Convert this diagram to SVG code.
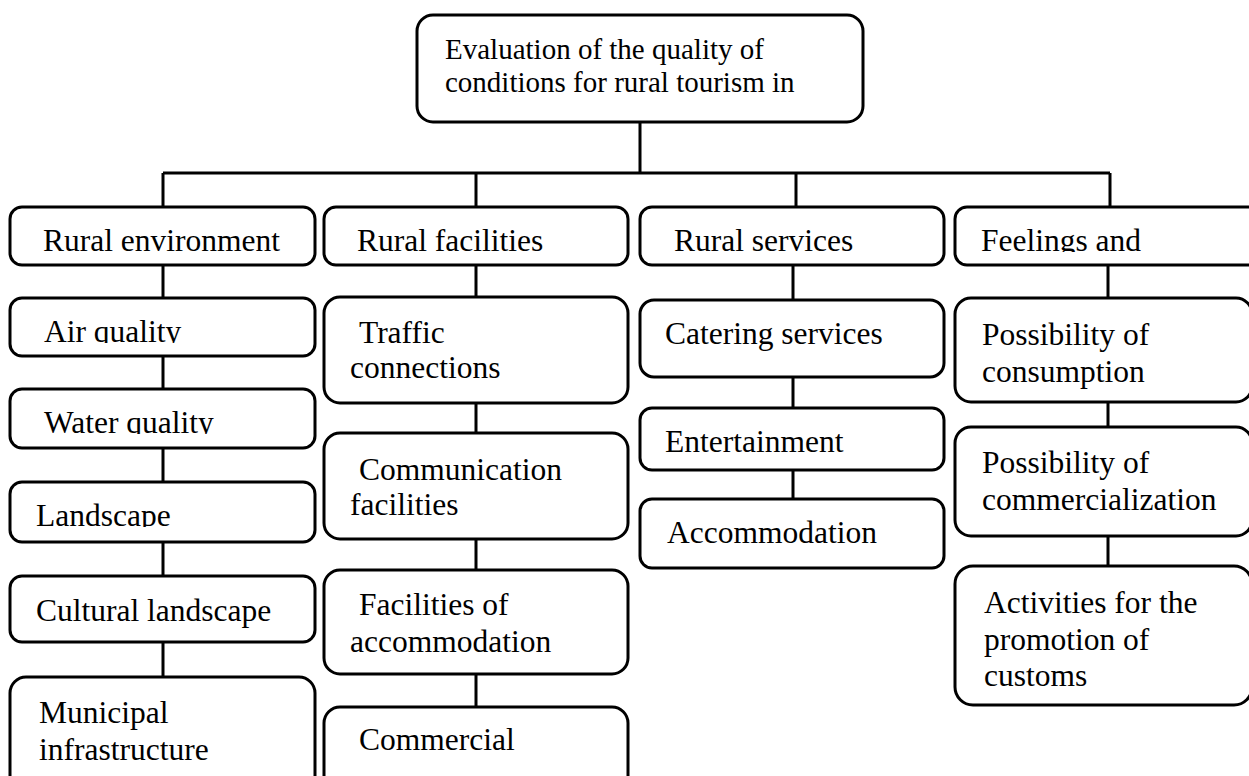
<svg xmlns="http://www.w3.org/2000/svg" width="1249" height="776" viewBox="0 0 1249 776">
<style>
.box{fill:#fff;stroke:#000;stroke-width:3}
.t{font-family:"Liberation Serif","Times New Roman",serif;font-size:31.5px;fill:#000}
.tt{font-size:29px}
.c{stroke:#000;stroke-width:3;fill:none}
</style>
<defs>
<clipPath id="cL1"><rect x="0" y="200" width="1249" height="52"/></clipPath>
<clipPath id="cAir"><rect x="0" y="290" width="330" height="53"/></clipPath>
<clipPath id="cWater"><rect x="0" y="380" width="330" height="54"/></clipPath>
<clipPath id="cLand"><rect x="0" y="475" width="330" height="52"/></clipPath>
<clipPath id="cComm"><rect x="320" y="700" width="320" height="68"/></clipPath>
</defs>
<rect width="1249" height="776" fill="#fff"/>
<g id="connectors">
<path class="c" d="M640 122V173 M163 173H1110 M163 173V207 M476 173V207 M796 173V207 M1110 173V207 M163 265V298 M163 356V389 M163 448V482 M163 542V576 M163 642V677 M476 265V297 M476 403V433 M476 539V570 M476 674V707 M793 265V300 M793 377V408 M793 470V499 M1108 265V298 M1108 402V427 M1108 536V566"/>
</g>
<g id="root">
<rect class="box" x="417" y="15" width="446" height="107" rx="16"/>
<text class="t tt" x="445" y="59">Evaluation of the quality of</text>
<text class="t tt" x="445" y="92">conditions for rural tourism in</text>
</g>
<g id="rural-environment">
<rect class="box" x="10" y="207" width="305" height="58" rx="12"/>
<text class="t" x="43" y="251" clip-path="url(#cL1)">Rural environment</text>
</g>
<g id="rural-facilities">
<rect class="box" x="324" y="207" width="304" height="58" rx="12"/>
<text class="t" x="357" y="251" clip-path="url(#cL1)">Rural facilities</text>
</g>
<g id="rural-services">
<rect class="box" x="640" y="207" width="304" height="58" rx="12"/>
<text class="t" x="674" y="251" clip-path="url(#cL1)">Rural services</text>
</g>
<g id="feelings">
<rect class="box" x="955" y="207" width="310" height="58" rx="12"/>
<text class="t" x="981" y="251" clip-path="url(#cL1)">Feelings and</text>
</g>
<g id="air-quality">
<rect class="box" x="10" y="298" width="305" height="58" rx="12"/>
<text class="t" x="44" y="342" clip-path="url(#cAir)">Air quality</text>
</g>
<g id="water-quality">
<rect class="box" x="10" y="389" width="305" height="59" rx="12"/>
<text class="t" x="44" y="433" clip-path="url(#cWater)">Water quality</text>
</g>
<g id="landscape">
<rect class="box" x="10" y="482" width="305" height="60" rx="12"/>
<text class="t" x="36" y="526" clip-path="url(#cLand)">Landscape</text>
</g>
<g id="cultural-landscape">
<rect class="box" x="10" y="576" width="305" height="66" rx="12"/>
<text class="t" x="36" y="621">Cultural landscape</text>
</g>
<g id="municipal-infrastructure">
<rect class="box" x="10" y="677" width="305" height="140" rx="16"/>
<text class="t" x="39" y="723">Municipal</text>
<text class="t" x="39" y="760">infrastructure</text>
</g>
<g id="traffic-connections">
<rect class="box" x="324" y="297" width="304" height="106" rx="16"/>
<text class="t" x="359" y="343">Traffic</text>
<text class="t" x="350" y="378">connections</text>
</g>
<g id="communication-facilities">
<rect class="box" x="324" y="433" width="304" height="106" rx="16"/>
<text class="t" x="359" y="480">Communication</text>
<text class="t" x="350" y="515">facilities</text>
</g>
<g id="facilities-of-accommodation">
<rect class="box" x="324" y="570" width="304" height="104" rx="16"/>
<text class="t" x="359" y="615">Facilities of</text>
<text class="t" x="350" y="652">accommodation</text>
</g>
<g id="commercial">
<rect class="box" x="324" y="707" width="304" height="120" rx="16"/>
<text class="t" x="359" y="750" clip-path="url(#cComm)">Commercial</text>
</g>
<g id="catering-services">
<rect class="box" x="640" y="300" width="304" height="77" rx="14"/>
<text class="t" x="665" y="344">Catering services</text>
</g>
<g id="entertainment">
<rect class="box" x="640" y="408" width="304" height="62" rx="12"/>
<text class="t" x="665" y="452">Entertainment</text>
</g>
<g id="accommodation">
<rect class="box" x="640" y="499" width="304" height="69" rx="12"/>
<text class="t" x="667" y="543">Accommodation</text>
</g>
<g id="possibility-consumption">
<rect class="box" x="955" y="298" width="297" height="104" rx="16"/>
<text class="t" x="982" y="345">Possibility of</text>
<text class="t" x="982" y="382">consumption</text>
</g>
<g id="possibility-commercialization">
<rect class="box" x="955" y="427" width="297" height="109" rx="16"/>
<text class="t" x="982" y="473">Possibility of</text>
<text class="t" x="982" y="510">commercialization</text>
</g>
<g id="activities-customs">
<rect class="box" x="955" y="566" width="297" height="139" rx="18"/>
<text class="t" x="984" y="613">Activities for the</text>
<text class="t" x="984" y="650">promotion of</text>
<text class="t" x="984" y="686">customs</text>
</g>
</svg>
